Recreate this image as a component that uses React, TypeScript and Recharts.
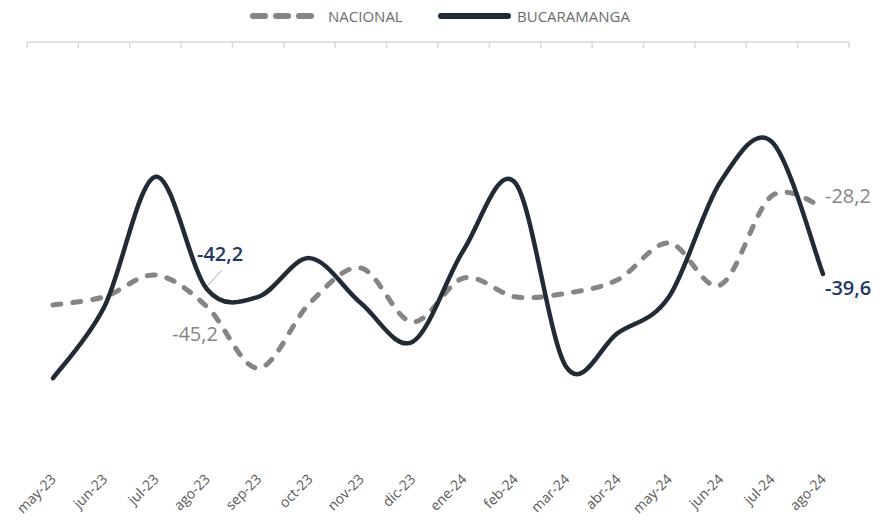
import { LineChart, Line, XAxis, YAxis, Legend, LabelList } from "recharts"

const months = [
  "may-23", "jun-23", "jul-23", "ago-23", "sep-23", "oct-23", "nov-23", "dic-23",
  "ene-24", "feb-24", "mar-24", "abr-24", "may-24", "jun-24", "jul-24", "ago-24",
]

const nacional = [
  -44.9, -43.5, -39.8, -45.2, -55.7, -44.6, -38.6, -47.8,
  -40.3, -43.5, -42.9, -40.6, -34.3, -41.5, -26.3, -28.2,
]

const bucaramanga = [
  -57.4, -45.2, -23.0, -42.2, -43.5, -36.9, -44.6, -51.2,
  -35.5, -24.0, -55.5, -49.7, -43.5, -23.9, -17.0, -39.6,
]

// only these points get a data label
const labeled = [3, 15]

const data = months.map((month, i) => ({
  month,
  i,
  nacional: nacional[i],
  bucaramanga: bucaramanga[i],
}))

const boundaries = months.map((_, i) => i - 0.5).concat(months.length - 0.5)

const GRAY = "#858585"
const DARK = "#222a35"
const NAVY = "#1f3864"
const FONT = "'Open Sans', sans-serif"

// excel-like smoothing (catmull-rom through every point)
const smooth = (context: any) => {
  let pts: number[][] = []
  return {
    areaStart() {},
    areaEnd() {},
    lineStart() {
      pts = []
    },
    point(x: number, y: number) {
      pts.push([+x, +y])
    },
    lineEnd() {
      if (!pts.length) return
      context.moveTo(pts[0][0], pts[0][1])
      for (let k = 0; k < pts.length - 1; k++) {
        const p0 = pts[k - 1] || pts[k]
        const p1 = pts[k]
        const p2 = pts[k + 1]
        const p3 = pts[k + 2] || p2
        context.bezierCurveTo(
          p1[0] + (p2[0] - p0[0]) / 6,
          p1[1] + (p2[1] - p0[1]) / 6,
          p2[0] - (p3[0] - p1[0]) / 6,
          p2[1] - (p3[1] - p1[1]) / 6,
          p2[0],
          p2[1]
        )
      }
    },
  }
}

const fmt = (v: number) => v.toFixed(1).replace(".", ",")

const MonthTick = ({ x, y, payload }: any) => (
  <text
    x={x + 4}
    y={y + 20}
    transform={`rotate(-45, ${x + 4}, ${y + 20})`}
    textAnchor="end"
    fill="#595959"
    fontSize={14}
    fontFamily={FONT}
  >
    {payload.value}
  </text>
)

const NacionalLabel = ({ x, y, value, index }: any) => {
  if (!labeled.includes(index)) return null
  const last = index === months.length - 1
  return (
    <text
      x={last ? x + 2 : x - 35}
      y={last ? y - 4 : y + 34}
      fill={GRAY}
      fontSize={20}
      fontFamily={FONT}
    >
      {fmt(value)}
    </text>
  )
}

const BucaramangaLabel = ({ x, y, value, index }: any) => {
  if (!labeled.includes(index)) return null
  const last = index === months.length - 1
  if (last) {
    return (
      <text x={x + 2} y={y + 21} fill={NAVY} fontSize={20} fontWeight={600} fontFamily={FONT}>
        {fmt(value)}
      </text>
    )
  }
  return (
    <g>
      <line x1={x} y1={y - 3} x2={x + 15} y2={y - 19} stroke="#a6a6a6" strokeWidth={1} />
      <text x={x - 10} y={y - 28} fill={NAVY} fontSize={20} fontWeight={600} fontFamily={FONT}>
        {fmt(value)}
      </text>
    </g>
  )
}

const renderLegend = () => (
  <svg width={890} height={36} style={{ display: "block" }}>
    {[0, 1, 2].map((k) => (
      <line
        key={k}
        x1={253 + k * 23}
        y1={16}
        x2={265 + k * 23}
        y2={16}
        stroke={GRAY}
        strokeWidth={6}
        strokeLinecap="round"
      />
    ))}
    <text x={328} y={22} fill="#6b6b6b" fontSize={15} fontFamily={FONT}>
      NACIONAL
    </text>
    <line x1={441} y1={16} x2={508} y2={16} stroke={DARK} strokeWidth={6} strokeLinecap="round" />
    <text x={517} y={22} fill="#6b6b6b" fontSize={15} fontFamily={FONT}>
      BUCARAMANGA
    </text>
  </svg>
)

export default function App() {
  return (
    <div>
      <style>{`body{margin:0}`}</style>
      <LineChart width={890} height={521} data={data} margin={{ top: 0, right: 41, bottom: 0, left: 27 }}>
        <Legend
          verticalAlign="top"
          content={renderLegend}
          wrapperStyle={{ top: 0, left: 0, width: 890, lineHeight: 0 }}
        />
        <XAxis
          xAxisId="top"
          type="number"
          dataKey="i"
          orientation="top"
          domain={[-0.5, months.length - 0.5]}
          allowDataOverflow
          ticks={boundaries}
          height={6}
          tick={() => <g />}
          tickSize={-6}
          axisLine={{ stroke: "#d9d9d9", strokeWidth: 1.5 }}
          tickLine={{ stroke: "#d9d9d9", strokeWidth: 1.5 }}
        />
        <XAxis
          dataKey="month"
          padding={{ left: 26, right: 26 }}
          axisLine={false}
          tickLine={false}
          interval={0}
          height={69}
          tick={<MonthTick />}
        />
        <YAxis hide domain={[-70, 0]} />
        <Line
          dataKey="nacional"
          type={smooth as any}
          stroke={GRAY}
          strokeWidth={5}
          strokeDasharray="8 12"
          strokeLinecap="round"
          dot={false}
          activeDot={false}
          isAnimationActive={false}
        >
          <LabelList dataKey="nacional" content={<NacionalLabel />} />
        </Line>
        <Line
          dataKey="bucaramanga"
          type={smooth as any}
          stroke={DARK}
          strokeWidth={4.5}
          strokeLinecap="round"
          dot={false}
          activeDot={false}
          isAnimationActive={false}
        >
          <LabelList dataKey="bucaramanga" content={<BucaramangaLabel />} />
        </Line>
      </LineChart>
    </div>
  )
}
